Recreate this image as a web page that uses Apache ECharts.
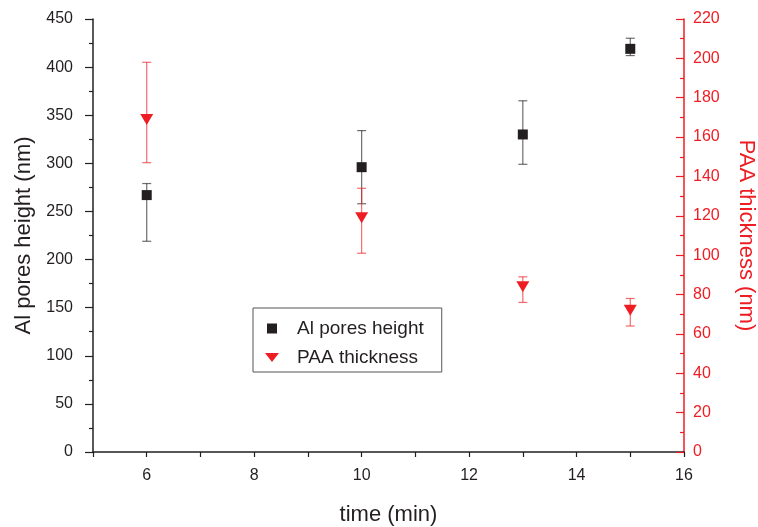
<!DOCTYPE html>
<html>
<head>
<meta charset="utf-8">
<script src="https://cdn.jsdelivr.net/npm/echarts@6/dist/echarts.min.js"></script>
<style>
html,body{margin:0;padding:0;background:#fff;}
#chart{width:758px;height:527px;}
</style>
</head>
<body>
<div id="chart"></div>
<script>
// Data
var timeMin = [6, 10, 13, 15];
var alHeight = [267, 296, 330, 419];
var alLow = [219, 258, 299, 412];
var alHigh = [279, 334, 365, 430];
var paaThick = [169, 119, 84, 72];
var paaLow = [147, 101, 76, 64];
var paaHigh = [198, 134, 89, 78];

var RED = '#ee1d23';
var BLACK = '#231f20';
var FONT = '"Liberation Sans", Arial, Helvetica, sans-serif';

function pairs(xs, ys) { return xs.map(function (x, i) { return [x, ys[i]]; }); }
function errData(xs, lo, hi) { return xs.map(function (x, i) { return [x, lo[i], hi[i]]; }); }

function errRender(color) {
  return function (params, api) {
    var x = api.value(0);
    var lo = api.coord([x, api.value(1)]);
    var hi = api.coord([x, api.value(2)]);
    var cap = 4.5;
    var st = { stroke: color, lineWidth: 1.2 };
    return {
      type: 'group',
      children: [
        { type: 'line', shape: { x1: lo[0], y1: lo[1], x2: hi[0], y2: hi[1] }, style: st },
        { type: 'line', shape: { x1: lo[0] - cap, y1: lo[1], x2: lo[0] + cap, y2: lo[1] }, style: st },
        { type: 'line', shape: { x1: hi[0] - cap, y1: hi[1], x2: hi[0] + cap, y2: hi[1] }, style: st }
      ]
    };
  };
}

var downTri = 'path://M0,0 L12,0 L6,10 Z';
var legendTri = 'path://M0,0 L14,0 L7,9 Z';
var legendSq = 'path://M0,0 L10,0 L10,10 L0,10 Z';

var chart = echarts.init(document.getElementById('chart'));
chart.setOption({
  animation: false,
  backgroundColor: '#fff',
  grid: { left: 93, right: 74, top: 19, bottom: 75, containLabel: false, outerBoundsMode: 'none' },
  legend: {
    orient: 'vertical',
    left: 253, top: 308,
    padding: [11, 18, 5, 12],
    borderColor: '#555', borderWidth: 1, borderRadius: 0,
    itemWidth: 14, itemHeight: 10, itemGap: 10,
    symbolKeepAspect: true,
    textStyle: { fontFamily: FONT, fontSize: 19, color: BLACK, padding: [0, 0, 0, 13] },
    data: [
      { name: 'Al pores height', icon: legendSq, itemStyle: { color: BLACK } },
      { name: 'PAA thickness', icon: legendTri, itemStyle: { color: RED } }
    ]
  },
  xAxis: {
    type: 'value', min: 5, max: 16, interval: 1,
    name: 'time (min)', nameLocation: 'middle', nameGap: 52,
    nameTextStyle: { fontFamily: FONT, fontSize: 22, color: BLACK },
    axisLine: { show: true, onZero: false, lineStyle: { color: BLACK, width: 1.5 } },
    axisTick: { show: true, inside: false, length: 5, lineStyle: { color: BLACK, width: 1.2 } },
    axisLabel: {
      fontFamily: FONT, fontSize: 16, color: BLACK, margin: 16,
      formatter: function (v) { return v % 2 === 0 ? String(v) : ''; }
    },
    splitLine: { show: false }
  },
  yAxis: [
    {
      type: 'value', min: 0, max: 450, interval: 50, position: 'left',
      name: 'Al pores height (nm)', nameLocation: 'middle', nameGap: 52, nameRotate: 90,
      nameTextStyle: { fontFamily: FONT, fontSize: 22, color: BLACK },
      axisLine: { show: true, onZero: false, lineStyle: { color: BLACK, width: 1.5 } },
      axisTick: { show: true, inside: false, length: 8, lineStyle: { color: BLACK, width: 1.2 } },
      minorTick: { show: true, splitNumber: 2, length: 4, lineStyle: { color: BLACK, width: 1.2 } },
      axisLabel: { fontFamily: FONT, fontSize: 16, color: BLACK, margin: 20 },
      splitLine: { show: false }
    },
    {
      type: 'value', min: 0, max: 220, interval: 20, position: 'right',
      name: 'PAA thickness (nm)', nameLocation: 'middle', nameGap: 51, nameRotate: -90,
      nameTextStyle: { fontFamily: FONT, fontSize: 22, color: RED },
      axisLine: { show: true, onZero: false, lineStyle: { color: RED, width: 1.5 } },
      axisTick: { show: true, inside: true, length: 8, lineStyle: { color: RED, width: 1.2 } },
      minorTick: { show: true, splitNumber: 2, length: 4, lineStyle: { color: RED, width: 1.2 } },
      axisLabel: { fontFamily: FONT, fontSize: 16, color: RED, margin: 9 },
      splitLine: { show: false }
    }
  ],
  series: [
    {
      name: 'Al pores height err', type: 'custom', yAxisIndex: 0,
      renderItem: errRender('rgba(35,31,32,0.65)'),
      encode: { x: 0, y: [1, 2] },
      data: errData(timeMin, alLow, alHigh), z: 2, silent: true
    },
    {
      name: 'PAA thickness err', type: 'custom', yAxisIndex: 1,
      renderItem: errRender('rgba(238,29,35,0.65)'),
      encode: { x: 0, y: [1, 2] },
      data: errData(timeMin, paaLow, paaHigh), z: 2, silent: true
    },
    {
      name: 'Al pores height', type: 'scatter', yAxisIndex: 0,
      symbol: 'rect', symbolSize: 10,
      itemStyle: { color: BLACK, opacity: 1 },
      data: pairs(timeMin, alHeight), z: 5
    },
    {
      name: 'PAA thickness', type: 'scatter', yAxisIndex: 1,
      symbol: downTri, symbolSize: [13, 11],
      itemStyle: { color: RED, opacity: 1 },
      data: pairs(timeMin, paaThick), z: 5
    }
  ]
});
</script>
</body>
</html>
